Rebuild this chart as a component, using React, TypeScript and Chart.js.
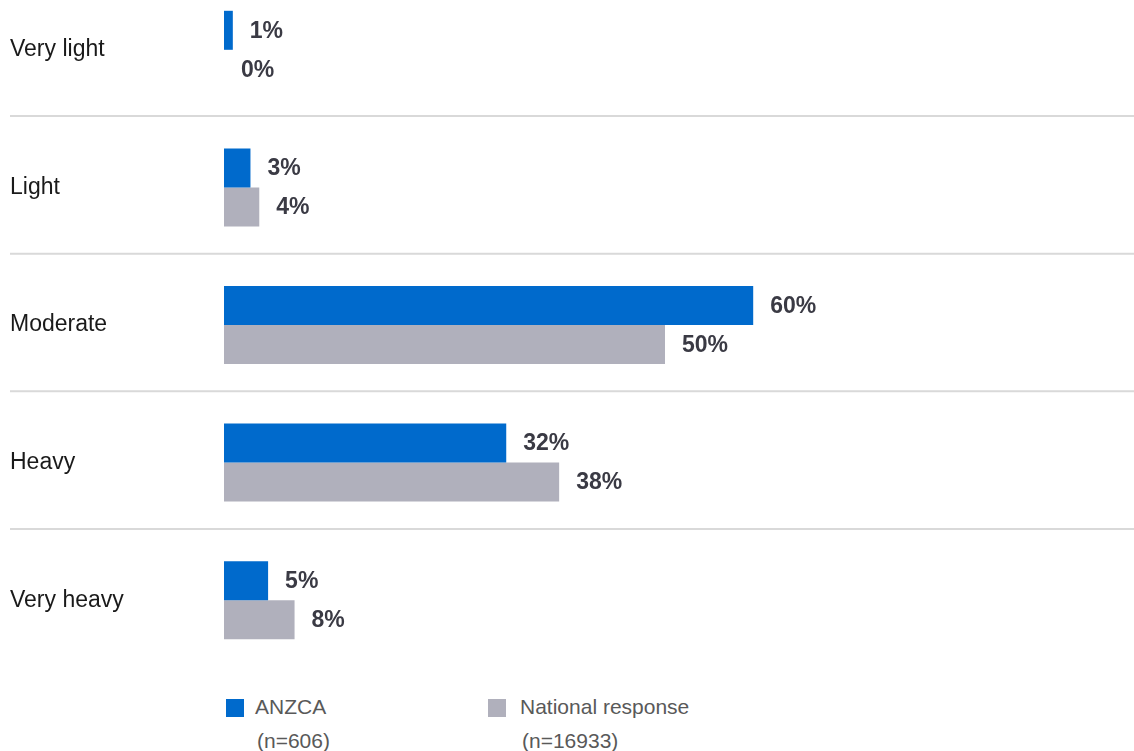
import React, { useEffect, useRef } from "react";
import { Chart, registerables } from "chart.js";

Chart.register(...registerables);

const categories = ["Very light", "Light", "Moderate", "Heavy", "Very heavy"];
const anzcaValues = [1, 3, 60, 32, 5];
const nationalValues = [0, 4, 50, 38, 8];
const seriesNames = ["ANZCA", "National response"];
const seriesCounts = ["(n=606)", "(n=16933)"];
const seriesColors = ["#006ACC", "#B0B0BC"];

const FONT = '"Liberation Sans", Arial, sans-serif';

const valueLabels = {
  id: "valueLabels",
  afterDatasetsDraw(chart: any) {
    const ctx = chart.ctx;
    ctx.save();
    ctx.font = `bold 23px ${FONT}`;
    ctx.fillStyle = "#3A3A44";
    ctx.textAlign = "left";
    ctx.textBaseline = "middle";
    chart.data.datasets.forEach((ds: any, di: number) => {
      const meta = chart.getDatasetMeta(di);
      meta.data.forEach((el: any, i: number) => {
        ctx.fillText(`${ds.data[i]}%`, el.x + 17, el.y + 1);
      });
    });
    ctx.restore();
  },
};

const separators = {
  id: "separators",
  beforeDatasetsDraw(chart: any) {
    const ctx = chart.ctx;
    const y = chart.scales.y;
    ctx.save();
    ctx.strokeStyle = "#D9D9D9";
    ctx.lineWidth = 2;
    for (let i = 0; i < categories.length - 1; i++) {
      const py = (y.getPixelForValue(i) + y.getPixelForValue(i + 1)) / 2 - 2.5;
      ctx.beginPath();
      ctx.moveTo(10, py);
      ctx.lineTo(chart.width, py);
      ctx.stroke();
    }
    ctx.restore();
  },
};

export default function App() {
  const ref = useRef<HTMLCanvasElement>(null);
  useEffect(() => {
    if (!ref.current) return;
    const chart = new Chart(ref.current, {
      type: "bar",
      data: {
        labels: categories,
        datasets: [
          { label: seriesNames[0], data: anzcaValues, backgroundColor: seriesColors[0] },
          { label: seriesNames[1], data: nationalValues, backgroundColor: seriesColors[1] },
        ],
      },
      options: {
        indexAxis: "y",
        responsive: false,
        animation: false,
        devicePixelRatio: 1,
        layout: { padding: { left: 10, right: 28, top: 0, bottom: 2 } },
        datasets: { bar: { barPercentage: 1, categoryPercentage: 0.567 } },
        plugins: { legend: { display: false }, tooltip: { enabled: false } },
        scales: {
          x: { display: false, min: 0, max: 100 },
          y: {
            grid: { display: false },
            border: { display: false },
            afterFit: (s: any) => {
              s.width = 214;
              s.paddingTop = 0;
              s.paddingBottom = 0;
            },
            ticks: {
              crossAlign: "far",
              color: "#1A1A1A",
              font: { family: FONT, size: 23 },
            },
          },
        },
      },
      plugins: [separators, valueLabels],
    } as any);
    return () => chart.destroy();
  }, []);

  const legendText: React.CSSProperties = {
    position: "absolute",
    fontFamily: FONT,
    fontSize: 21,
    lineHeight: "34px",
    color: "#595959",
    whiteSpace: "pre",
  };

  return (
    <div style={{ position: "absolute", left: 0, top: 0, width: 1134, height: 751, overflow: "hidden", background: "#fff" }}>
      <canvas ref={ref} width={1134} height={690} style={{ position: "absolute", left: 0, top: -19 }} />
      <div style={{ position: "absolute", left: 226, top: 699, width: 18, height: 18, background: seriesColors[0] }} />
      <div style={{ ...legendText, left: 255, top: 690 }}>
        {seriesNames[0]}
        <br />
        <span style={{ paddingLeft: 2 }}>{seriesCounts[0]}</span>
      </div>
      <div style={{ position: "absolute", left: 488, top: 699, width: 18, height: 18, background: seriesColors[1] }} />
      <div style={{ ...legendText, left: 520, top: 690 }}>
        {seriesNames[1]}
        <br />
        <span style={{ paddingLeft: 2 }}>{seriesCounts[1]}</span>
      </div>
    </div>
  );
}
